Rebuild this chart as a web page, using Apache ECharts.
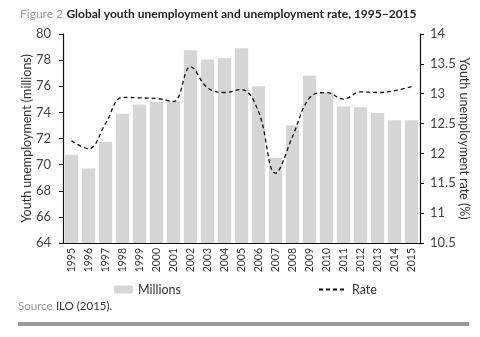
<!DOCTYPE html>
<html><head><meta charset="utf-8">
<script src="https://cdn.jsdelivr.net/npm/echarts@6/dist/echarts.min.js"></script>
<style>html,body{margin:0;padding:0;background:#fff}#c{width:480px;height:337px}</style>
</head><body><div id="c"></div>
<script>
const years = ['1995','1996','1997','1998','1999','2000','2001','2002','2003','2004','2005','2006','2007','2008','2009','2010','2011','2012','2013','2014','2015'];
const millions = [70.75,69.7,71.75,73.9,74.6,74.8,74.85,78.75,78.05,78.15,78.9,76.0,70.5,73.0,76.8,75.5,74.45,74.4,73.95,73.4,73.4];
const rate = [12.21,12.08,12.5,12.94,12.93,12.92,12.87,13.45,13.1,13.02,13.07,12.7,11.67,12.28,12.93,13.02,12.91,13.03,13.02,13.05,13.12];
const leftTicks = {min:64, max:80, interval:2};
const rightTicks = {min:10.5, max:14, interval:0.5};

const F = 'Lato, "Open Sans", sans-serif';
const chart = echarts.init(document.getElementById('c'), null, {renderer:'canvas'});
chart.setOption({
  animation:false,
  backgroundColor:'#fff',
  textStyle:{fontFamily:F},
  grid:{left:63, right:60, top:34, bottom:94},
  legend:[
    {data:['Millions'], left:109, top:278, itemWidth:19, itemHeight:8, itemGap:6,
     textStyle:{fontFamily:F, fontSize:12.5, color:'#333'}},
    {data:[{name:'Rate', itemStyle:{opacity:0}}], left:313, top:278, itemWidth:28, itemHeight:8,
     textStyle:{fontFamily:F, fontSize:12.5, color:'#333'}}
  ],
  xAxis:{type:'category', data:years,
    axisLine:{lineStyle:{color:'#111', width:1.2}},
    axisTick:{show:false},
    axisLabel:{rotate:90, fontSize:10.5, color:'#333', margin:5, fontFamily:F}
  },
  yAxis:[
    {type:'value', min:leftTicks.min, max:leftTicks.max, interval:leftTicks.interval, position:'left',
     name:'Youth unemployment (millions)', nameLocation:'middle', nameGap:30, nameMoveOverlap:false,
     nameTextStyle:{fontSize:12.5, color:'#333', fontFamily:F},
     axisLine:{show:true, lineStyle:{color:'#111', width:1.2}},
     axisTick:{show:true, length:4, lineStyle:{color:'#111'}},
     axisLabel:{fontSize:13, color:'#444', margin:12, fontFamily:F},
     splitLine:{show:false}},
    {type:'value', min:rightTicks.min, max:rightTicks.max, interval:rightTicks.interval, position:'right',
     name:'Youth unemployment rate (%)', nameLocation:'middle', nameGap:38, nameRotate:-90, nameMoveOverlap:false,
     nameTextStyle:{fontSize:12.5, color:'#333', fontFamily:F},
     axisLine:{show:true, lineStyle:{color:'#111', width:1.2}},
     axisTick:{show:true, length:4, lineStyle:{color:'#111'}},
     axisLabel:{fontSize:13, color:'#444', margin:10, fontFamily:F},
     splitLine:{show:false}}
  ],
  series:[
    {name:'Millions', type:'bar', data:millions, yAxisIndex:0, barCategoryGap:'22%',
     itemStyle:{color:'#d6d6d6'}},
    {name:'Rate', type:'line', data:rate, yAxisIndex:1, smooth:0.4, symbol:'none',
     itemStyle:{color:'#111'},
     lineStyle:{color:'#111', width:1.3, type:[4,3]}}
  ],
  graphic:[
    {type:'text', left:20, top:8, style:{
      text:'{g|Figure 2} {b|Global youth unemployment and unemployment rate, 1995–2015}',
      rich:{g:{fill:'#999', fontSize:12, fontFamily:F},
            b:{fill:'#222', fontSize:12, fontWeight:'bold', fontFamily:F}}}},
    {type:'text', left:18, top:300, style:{
      text:'{g|Source} {b|ILO (2015).}',
      rich:{g:{fill:'#999', fontSize:11.5, fontFamily:F},
            b:{fill:'#333', fontSize:11.5, fontFamily:F}}}},
    {type:'rect', shape:{x:18, y:322, width:451, height:4}, style:{fill:'#999'}}
  ]
});
</script></body></html>
